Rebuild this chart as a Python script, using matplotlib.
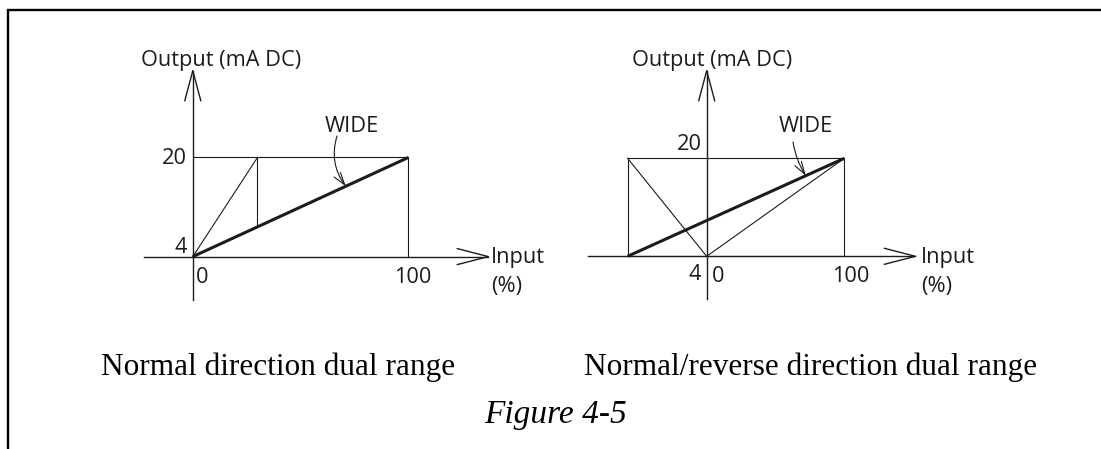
import matplotlib
matplotlib.use("Agg")
import matplotlib.pyplot as plt
from matplotlib.patches import FancyArrowPatch

# ---- data ---------------------------------------------------------------
out_lo, out_hi = 4, 20          # output range, mA DC
in_lo, in_hi = 0, 100           # input range, %

# Normal direction dual range
wide_in = [0, 100]
wide_out = [4, 20]
narrow_in = [0, 30]
narrow_out = [4, 20]
narrow_end = 30

# Normal/reverse direction dual range
rev_start = -57.5
nr_wide_in = [rev_start, 100]
nr_wide_out = [4, 20]
nr_rev_in = [rev_start, 0]
nr_rev_out = [20, 4]
nr_norm_in = [0, 100]
nr_norm_out = [4, 20]

wide_tip_left = 71      # input % where the WIDE pointer meets the wide line
wide_tip_right = 72

# ---- figure -------------------------------------------------------------
W, H = 1101, 449
fig = plt.figure(figsize=(W / 100, H / 100), dpi=100)
INK = "#1c1c1c"
SANS = "Open Sans"
SERIF = "Liberation Serif"
LBL = 15.7


def fx(px):
    return px / W


def fy(py):
    return 1 - py / H


def make_chart(origin, sx, sy, box):
    """Axes whose data units are input % (x) and mA (y)."""
    ox, oy = origin
    x0, y0, x1, y1 = box
    ax = fig.add_axes([fx(x0), fy(y1), (x1 - x0) / W, (y1 - y0) / H])
    ax.set_xlim((x0 - ox) / sx, (x1 - ox) / sx)
    ax.set_ylim(out_lo - (y1 - oy) / sy, out_lo + (oy - y0) / sy)
    ax.axis("off")
    ax.sx, ax.sy = sx, sy
    return ax


def axis_arrows(ax, x_from, x_tip, y_from, y_tip, head_len=31, head_half=8):
    lw = 1.0
    ax.plot([x_from, x_tip], [out_lo, out_lo], color=INK, lw=lw, clip_on=False)
    ax.plot([in_lo, in_lo], [y_from, y_tip], color=INK, lw=lw, clip_on=False)
    # open V heads
    hx, hw = head_len / ax.sx, head_half / ax.sy
    ax.plot([x_tip - hx, x_tip, x_tip - hx], [out_lo + hw, out_lo, out_lo - hw],
            color=INK, lw=lw, clip_on=False)
    hy, hwx = (head_len - 1) / ax.sy, head_half / ax.sx
    ax.plot([in_lo - hwx, in_lo, in_lo + hwx], [y_tip - hy, y_tip, y_tip - hy],
            color=INK, lw=lw, clip_on=False)


def tick_text(ax, s, xy, dx, dy, ha):
    ax.annotate(s, xy=xy, xytext=(dx, dy), textcoords="offset pixels",
                ha=ha, va="baseline", fontsize=LBL, family=SANS, color=INK)


def wide_pointer(ax, start_px, tip_x, rad):
    tip = (tip_x, wide_out[0] + (wide_out[1] - wide_out[0]) *
           (tip_x - ax.wide_x0) / (ax.wide_x1 - ax.wide_x0))
    start = fig.transFigure.transform((fx(start_px[0]), fy(start_px[1])))
    start = ax.transData.inverted().transform(start)
    arr = FancyArrowPatch(start, tip, connectionstyle=f"arc3,rad={rad}",
                          arrowstyle="->,head_length=0.9,head_width=0.28",
                          mutation_scale=10, lw=0.8, color=INK,
                          shrinkA=0, shrinkB=0, clip_on=False)
    ax.add_patch(arr)


THIN = 0.8
THICK = 2.2

# ---- left: normal direction dual range ----------------------------------
axL = make_chart((192.8, 256.6), 2.155, 6.194, (120, 40, 560, 320))
axL.wide_x0, axL.wide_x1 = wide_in
axis_arrows(axL, (144 - 192.8) / 2.155, (488.3 - 192.8) / 2.155,
            out_lo - (300 - 256.6) / 6.194, out_lo + (256.6 - 70.7) / 6.194)
axL.plot([in_lo, in_hi], [out_hi, out_hi], color=INK, lw=THIN)
axL.plot([in_hi, in_hi], [out_lo, out_hi], color=INK, lw=THIN)
axL.plot(narrow_in, narrow_out, color=INK, lw=THIN)
wide_at_end = wide_out[0] + (wide_out[1] - wide_out[0]) * narrow_end / in_hi
axL.plot([narrow_end, narrow_end], [wide_at_end, out_hi], color=INK, lw=THIN)
axL.plot(wide_in, wide_out, color=INK, lw=THICK, solid_capstyle="butt")

tick_text(axL, "20", (in_lo, out_hi), -6, -6.5, "right")
tick_text(axL, "4", (in_lo, out_lo), -6, 4, "right")
tick_text(axL, "0", (in_lo, out_lo), 3.5, -26, "left")
tick_text(axL, "100", (in_hi, out_lo), 4, -26, "center")
fig.text(fx(141), fy(66), "Output (mA DC)", fontsize=LBL, family=SANS,
         color=INK, ha="left", va="baseline")
fig.text(fx(491), fy(263), "Input", fontsize=LBL, family=SANS,
         color=INK, ha="left", va="baseline")
fig.text(fx(491), fy(292), "(%)", fontsize=LBL, family=SANS,
         color=INK, ha="left", va="baseline")
fig.text(fx(325), fy(132), "WIDE", fontsize=LBL, family=SANS,
         color=INK, ha="left", va="baseline")
wide_pointer(axL, (337, 136), wide_tip_left, 0.25)

# ---- right: normal/reverse direction dual range -------------------------
axR = make_chart((706.7, 256.3), 1.376, 6.125, (570, 40, 1000, 320))
axR.wide_x0, axR.wide_x1 = nr_wide_in
axis_arrows(axR, (588 - 706.7) / 1.376, (915.4 - 706.7) / 1.376,
            out_lo - (299.3 - 256.3) / 6.125, out_lo + (256.3 - 70.7) / 6.125)
axR.plot([rev_start, in_hi, in_hi, rev_start, rev_start],
         [out_hi, out_hi, out_lo, out_lo, out_hi], color=INK, lw=THIN)
axR.plot(nr_rev_in, nr_rev_out, color=INK, lw=THIN)
axR.plot(nr_norm_in, nr_norm_out, color=INK, lw=THIN)
axR.plot(nr_wide_in, nr_wide_out, color=INK, lw=THICK, solid_capstyle="butt")

tick_text(axR, "20", (in_lo, out_hi), -5, 8, "right")
tick_text(axR, "4", (in_lo, out_lo), -6, -24, "right")
tick_text(axR, "0", (in_lo, out_lo), 5, -26, "left")
tick_text(axR, "100", (in_hi, out_lo), 6, -26, "center")
fig.text(fx(632), fy(66), "Output (mA DC)", fontsize=LBL, family=SANS,
         color=INK, ha="left", va="baseline")
fig.text(fx(921), fy(263), "Input", fontsize=LBL, family=SANS,
         color=INK, ha="left", va="baseline")
fig.text(fx(921), fy(292), "(%)", fontsize=LBL, family=SANS,
         color=INK, ha="left", va="baseline")
fig.text(fx(779), fy(132), "WIDE", fontsize=LBL, family=SANS,
         color=INK, ha="left", va="baseline")
wide_pointer(axR, (793, 142), wide_tip_right, 0.1)

# ---- captions and frame -------------------------------------------------
fig.text(fx(278), fy(375), "Normal direction dual range", fontsize=22.5,
         family=SERIF, color="black", ha="center", va="baseline")
fig.text(fx(811), fy(375), "Normal/reverse direction dual range", fontsize=22.5,
         family=SERIF, color="black", ha="center", va="baseline")
fig.text(fx(556), fy(423), "Figure 4-5", fontsize=24, family=SERIF,
         style="italic", color="black", ha="center", va="baseline")

frame = fig.add_axes([0, 0, 1, 1])
frame.set_xlim(0, W)
frame.set_ylim(H, 0)
frame.axis("off")
frame.plot([8, 8, W], [H, 10, 10], color="black", lw=1.7,
           solid_joinstyle="miter")

fig.savefig("out.png", dpi=100)
